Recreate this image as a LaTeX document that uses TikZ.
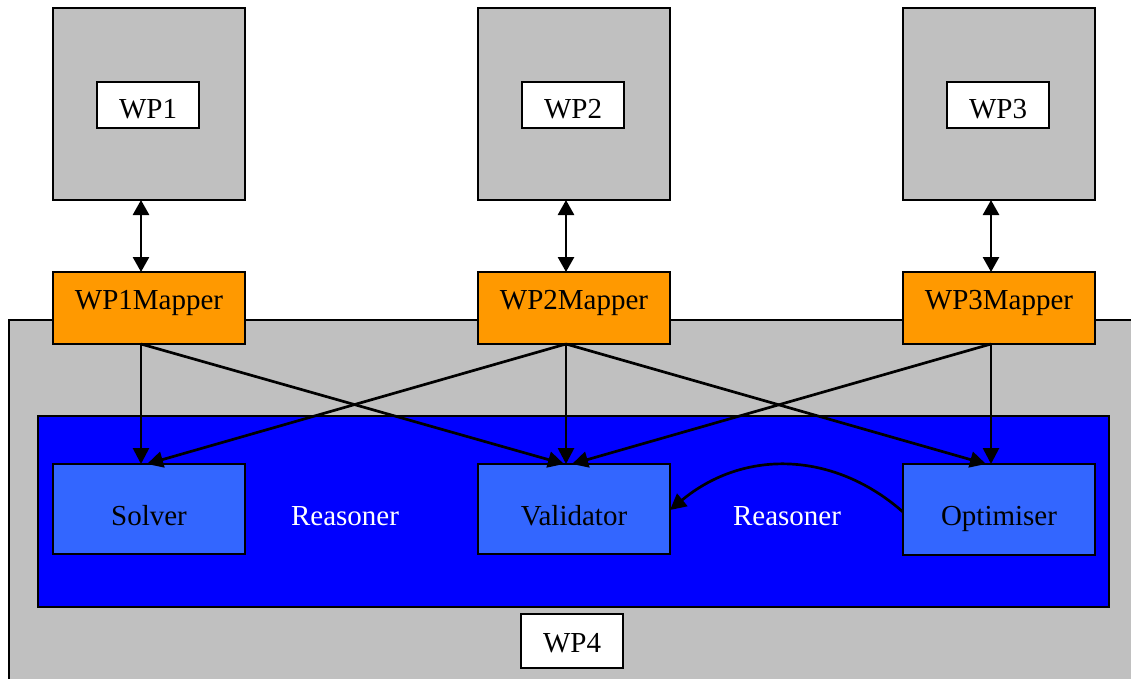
\documentclass[tikz,border=0pt]{standalone}
\usepackage{fontspec}
\setmainfont{Liberation Serif}
\usetikzlibrary{arrows.meta}
\definecolor{boxgray}{HTML}{C0C0C0}
\definecolor{maporange}{HTML}{FF9900}
\definecolor{deepblue}{HTML}{0000FF}
\definecolor{lightblue}{HTML}{3366FF}
\begin{document}
\begin{tikzpicture}[x=1pt,y=-1pt,
  every node/.style={font=\fontsize{29}{34}\selectfont, inner sep=0pt, outer sep=0pt},
  box/.style={draw=black, line width=1.8pt, rectangle},
  wpbox/.style={box, fill=boxgray, minimum width=192pt, minimum height=192pt},
  lblbox/.style={box, fill=white, minimum width=102pt, minimum height=46pt, text height=26pt, text depth=0pt},
  mapbox/.style={box, fill=maporange, minimum width=192pt, minimum height=72pt, text height=10pt, text depth=8pt},
  reabox/.style={box, fill=lightblue, minimum width=192pt, minimum height=90pt, text height=32pt, text depth=0pt},
  conn/.style={line width=2.7pt, -{Triangle[length=16pt,width=16pt]}},
  dconn/.style={line width=2.7pt, {Triangle[length=15pt,width=16pt]}-{Triangle[length=15pt,width=16pt]}},
]
\useasboundingbox (0,0) rectangle (1131,678);
\clip (0,0) rectangle (1131,678);
\fill[white] (0,0) rectangle (1131,678);

% WP4 area
\node[box, fill=boxgray, anchor=north west, minimum width=1140pt, minimum height=380pt] (wp4area) at (9,320) {};
\node[box, fill=deepblue, minimum width=1071pt, minimum height=191pt] (reasoner) at (573.5,511.5) {};
\node[reabox] (solver) at (149,509) {Solver};
\node[reabox] (validator) at (574,509) {Validator};
\node[reabox, minimum height=91pt] (optimiser) at (999,509.5) {Optimiser};
\node[text=white, anchor=base] (rl1) at (345,525) {Reasoner};
\node[text=white, anchor=base] (rl2) at (787,525) {Reasoner};
\node[lblbox, minimum height=54pt, text height=22pt] (wp4) at (572,641) {WP4};

% top WP boxes
\node[wpbox] (wp1) at (149,104) {};
\node[wpbox] (wp2) at (574,104) {};
\node[wpbox] (wp3) at (999,104) {};
\node[lblbox] (wp1l) at (148,105) {WP1};
\node[lblbox] (wp2l) at (573,105) {WP2};
\node[lblbox] (wp3l) at (998,105) {WP3};

% mappers
\node[mapbox] (m1) at (149,308) {WP1Mapper};
\node[mapbox] (m2) at (574,308) {WP2Mapper};
\node[mapbox] (m3) at (999,308) {WP3Mapper};

% double arrows
\draw[dconn] ([xshift=-8pt]wp1.south) -- ([xshift=-8pt]m1.north);
\draw[dconn] ([xshift=-8pt]wp2.south) -- ([xshift=-8pt]m2.north);
\draw[dconn] ([xshift=-8pt]wp3.south) -- ([xshift=-8pt]m3.north);

% mapper to reasoner components
\draw[conn] ([xshift=-8pt]m1.south) -- ([xshift=-8pt]solver.north);
\draw[conn] ([xshift=-8pt]m1.south) -- ([xshift=-10pt]validator.north);
\draw[conn] ([xshift=-8pt]m2.south) -- ([xshift=-2pt]solver.north);
\draw[conn] ([xshift=-8pt]m2.south) -- ([xshift=-8pt]validator.north);
\draw[conn] ([xshift=-8pt]m2.south) -- ([xshift=-13pt]optimiser.north);
\draw[conn] ([xshift=-8pt]m3.south) -- ([xshift=-2pt]validator.north);
\draw[conn] ([xshift=-8pt]m3.south) -- ([xshift=-8pt]optimiser.north);

% optimiser to validator curve
\draw[conn] ([yshift=-2.5pt]optimiser.west) .. controls (835,452) and (745,448) .. ([yshift=-1pt]validator.east);
\end{tikzpicture}
\end{document}
